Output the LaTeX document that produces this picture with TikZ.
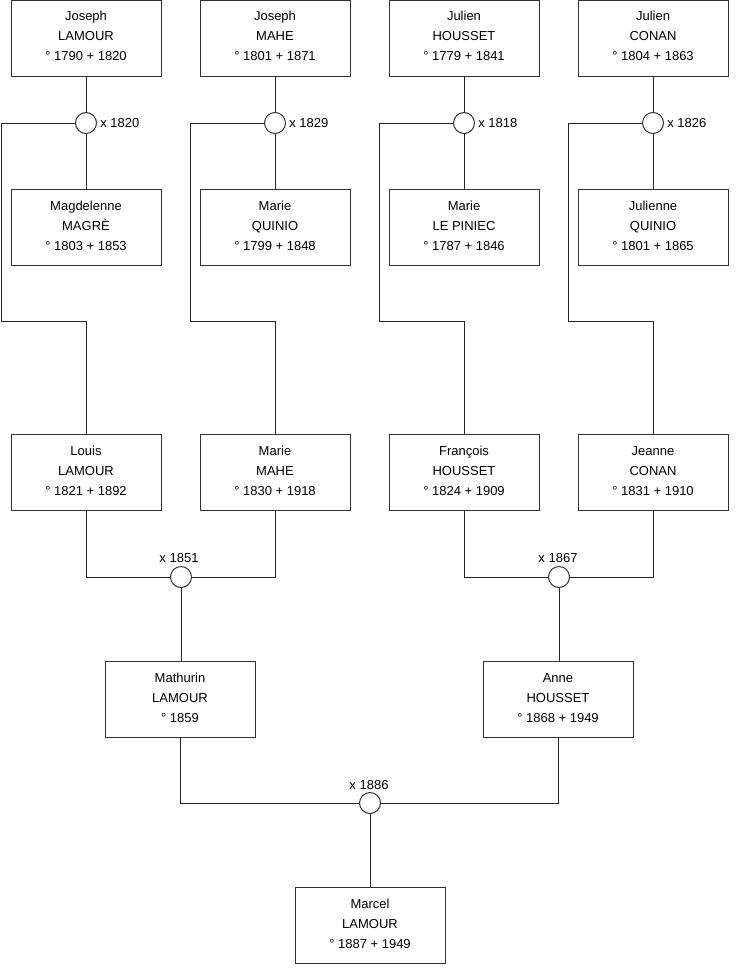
\documentclass[tikz,border=0pt]{standalone}
\usepackage{fontspec}
\setmainfont{Liberation Sans}
\newcommand\pers[4]{%
  \node[person] (#1) at (#2) {};
  \node[ptext,yshift=#3] (#1t) at (#1.center) {#4};}
\begin{document}
\begin{tikzpicture}[x=0.75pt,y=-0.75pt,
  person/.style={draw=black!80,line width=0.75pt,rectangle,minimum width=112.5pt,minimum height=57pt,inner sep=0pt,fill=white},
  ptext/.style={align=center,font=\fontsize{9.75}{15}\selectfont,inner sep=0pt},
  wed/.style={draw=black!80,line width=0.75pt,circle,minimum size=15.75pt,inner sep=0pt,fill=white},
  lbl/.style={font=\fontsize{9.75}{12}\selectfont,inner sep=0pt},
  link/.style={draw=black!85,line width=0.75pt}]
\path[use as bounding box] (0,0) rectangle (740,975);
% generation 1
\pers{a1}{86,38.5}{2.25pt}{Joseph\\LAMOUR\\° 1790 + 1820}
\pers{a2}{275,38.5}{2.25pt}{Joseph\\MAHE\\° 1801 + 1871}
\pers{a3}{464,38.5}{2.25pt}{Julien\\HOUSSET\\° 1779 + 1841}
\pers{a4}{653,38.5}{2.25pt}{Julien\\CONAN\\° 1804 + 1863}
% generation 1 spouses
\pers{b1}{86,227}{0.75pt}{Magdelenne\\MAGRÈ\\° 1803 + 1853}
\pers{b2}{275,227}{0.75pt}{Marie\\QUINIO\\° 1799 + 1848}
\pers{b3}{464,227}{0.75pt}{Marie\\LE PINIEC\\° 1787 + 1846}
\pers{b4}{653,227}{0.75pt}{Julienne\\QUINIO\\° 1801 + 1865}
% marriages gen 1
\node[wed] (m1) at (86,123) {};
\node[wed] (m2) at (275,123) {};
\node[wed] (m3) at (464,123) {};
\node[wed] (m4) at (653,123) {};
\node[lbl,anchor=west] (l1) at (100,123) {x 1820};
\node[lbl,anchor=west] (l2) at (289,123) {x 1829};
\node[lbl,anchor=west] (l3) at (478,123) {x 1818};
\node[lbl,anchor=west] (l4) at (667,123) {x 1826};
% generation 2
\pers{c1}{86,472}{0.75pt}{Louis\\LAMOUR\\° 1821 + 1892}
\pers{c2}{275,472}{0.75pt}{Marie\\MAHE\\° 1830 + 1918}
\pers{c3}{464,472}{0.75pt}{François\\HOUSSET\\° 1824 + 1909}
\pers{c4}{653,472}{0.75pt}{Jeanne\\CONAN\\° 1831 + 1910}
% marriages gen 2
\node[wed] (m5) at (181,577) {};
\node[wed] (m6) at (559,577) {};
\node[lbl] (l5) at (179,558) {x 1851};
\node[lbl] (l6) at (558,558) {x 1867};
% generation 3
\pers{d1}{180,699}{0.75pt}{Mathurin\\LAMOUR\\° 1859}
\pers{d2}{558,699}{0.75pt}{Anne\\HOUSSET\\° 1868 + 1949}
\node[wed] (m7) at (370,803) {};
\node[lbl] (l7) at (369,785) {x 1886};
% generation 4
\pers{e1}{370,925}{0.75pt}{Marcel\\LAMOUR\\° 1887 + 1949}
% corner coordinates
\coordinate (k1a) at (1,123);   \coordinate (k1b) at (1,321);
\coordinate (k2a) at (190,123); \coordinate (k2b) at (190,321);
\coordinate (k3a) at (379,123); \coordinate (k3b) at (379,321);
\coordinate (k4a) at (568,123); \coordinate (k4b) at (568,321);
% connectors gen 1
\foreach \i in {1,2,3,4}{
  \draw[link] (a\i) -- (m\i);
  \draw[link] (m\i) -- (b\i);
  \draw[link] (m\i) -- (k\i a) -- (k\i b) -| (c\i.north);
}
% connectors gen 2
\draw[link] (c1.south) |- (m5);
\draw[link] (c2.south) |- (m5);
\draw[link] (c3.south) |- (m6);
\draw[link] (c4.south) |- (m6);
\draw[link] (m5) -- (m5 |- d1.north);
\draw[link] (m6) -- (m6 |- d2.north);
% connectors gen 3
\draw[link] (d1.south) |- (m7);
\draw[link] (d2.south) |- (m7);
\draw[link] (m7) -- (e1);
\end{tikzpicture}
\end{document}
